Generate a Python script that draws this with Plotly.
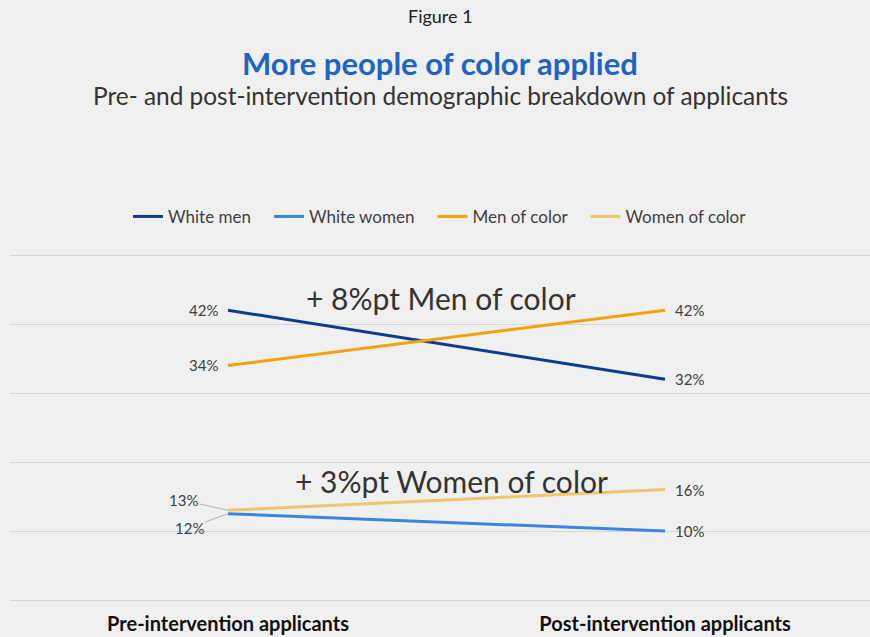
import plotly.graph_objects as go

categories = ["Pre-intervention applicants", "Post-intervention applicants"]
series_names = ["White men", "White women", "Men of color", "Women of color"]
white_men = [42, 32]
white_women = [12.5, 10]
men_of_color = [34, 42]
women_of_color = [13, 16]
label_left = ["42%", "12%", "34%", "13%"]
label_right = ["32%", "10%", "42%", "16%"]
colors = ["#0B3C8F", "#3A85DE", "#F0A30A", "#F1C46E"]
callouts = ["+ 8%pt Men of color", "+ 3%pt Women of color"]

values = [white_men, white_women, men_of_color, women_of_color]
xpos = [0, 1]

FONT = "Lato, 'Open Sans', sans-serif"
TXT = "#404040"
PAD = "\u00a0" * 3

fig = go.Figure()
for name, vals, col in zip(series_names, values, colors):
    fig.add_trace(go.Scatter(x=xpos, y=vals, mode="lines", name=name + PAD,
                             line=dict(color=col, width=3), hoverinfo="skip"))

LBL = dict(size=15, color=TXT, family=FONT)
ann = []
for i, vals in enumerate(values):
    if series_names[i] in ("White women", "Women of color"):
        continue
    ann.append(dict(x=0, y=vals[0], xref="x", yref="y", text=label_left[i],
                    showarrow=False, xanchor="right", yanchor="middle", xshift=-8, font=LBL))
ann.append(dict(x=0, y=women_of_color[0], xref="x", yref="y", text=label_left[3],
                showarrow=True, arrowhead=0, arrowwidth=1, arrowcolor="#B0B0B0",
                ax=-45, ay=-10, standoff=0, font=LBL))
ann.append(dict(x=0, y=white_women[0], xref="x", yref="y", text=label_left[1],
                showarrow=True, arrowhead=0, arrowwidth=1, arrowcolor="#B0B0B0",
                ax=-39, ay=14, standoff=0, font=LBL))
for i, vals in enumerate(values):
    ann.append(dict(x=1, y=vals[1], xref="x", yref="y", text=label_right[i],
                    showarrow=False, xanchor="left", yanchor="middle", xshift=8, font=LBL))

ann.append(dict(x=0.487, y=43.77, xref="x", yref="y", text=callouts[0], showarrow=False,
                yanchor="middle", font=dict(size=30, color="#333333", family=FONT)))
ann.append(dict(x=0.512, y=17.3, xref="x", yref="y", text=callouts[1], showarrow=False,
                yanchor="middle", font=dict(size=30, color="#333333", family=FONT)))

def py(px):
    return (600 - px) / 345

ann.append(dict(x=0.5, y=py(18), xref="paper", yref="paper", text="Figure 1",
                showarrow=False, yanchor="middle",
                font=dict(size=18, color="#222222", family=FONT)))
ann.append(dict(x=0.5, y=py(65), xref="paper", yref="paper",
                text="<b>More people of color applied</b>", showarrow=False, yanchor="middle",
                font=dict(size=31, color="#2163C4", family=FONT)))
ann.append(dict(x=0.5, y=py(97), xref="paper", yref="paper",
                text="Pre- and post-intervention demographic breakdown of applicants",
                showarrow=False, yanchor="middle",
                font=dict(size=24.4, color="#333333", family=FONT)))

fig.update_layout(
    width=870, height=637,
    margin=dict(l=10, r=0, t=254, b=37),
    paper_bgcolor="#F0F0F0", plot_bgcolor="#F0F0F0",
    font=dict(family=FONT, color=TXT),
    showlegend=True,
    legend=dict(orientation="h", x=0.507, xanchor="center", y=py(218), yanchor="middle",
                font=dict(size=17, color=TXT, family=FONT), bgcolor="rgba(0,0,0,0)",
                itemwidth=30, traceorder="normal"),
    annotations=ann,
    xaxis=dict(range=[-0.4989, 1.469], tickvals=xpos,
               ticktext=["<b>" + c + "</b>" for c in categories],
               showgrid=False, zeroline=False, showline=False, ticks="",
               ticklabelstandoff=10,
               tickfont=dict(size=20, color="#111111", family=FONT), fixedrange=True),
    yaxis=dict(range=[0, 50.15], dtick=10, showticklabels=False, showgrid=True,
               gridcolor="#D6D6D6", gridwidth=1, zeroline=True, zerolinecolor="#D6D6D6",
               zerolinewidth=1, showline=False, ticks="", fixedrange=True),
)

fig.write_html("out.html", config={"displayModeBar": False})
with open("out.html", encoding="utf-8") as f:
    html = f.read()
html = html.replace("<body>", '<body style="margin:0;padding:0;background:#F0F0F0">', 1)
with open("out.html", "w", encoding="utf-8") as f:
    f.write(html)
